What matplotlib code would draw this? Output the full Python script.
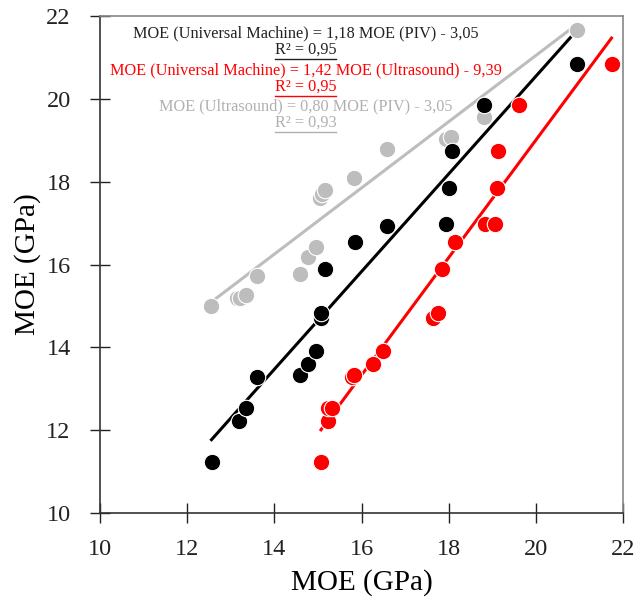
import matplotlib
matplotlib.use("Agg")
import matplotlib.pyplot as plt
import numpy as np

plt.rcParams['font.family'] = ['Liberation Serif', 'DejaVu Serif']

# Universal Machine vs PIV (black)
piv_um_x = [12.56, 13.18, 13.34, 13.61, 14.59, 14.78, 14.96, 15.07, 15.08, 15.17,
            15.85, 16.58, 17.93, 18.00, 18.07, 18.80, 20.93]
piv_um_y = [11.23, 12.22, 12.54, 13.28, 13.33, 13.60, 13.92, 14.70, 14.83, 15.90,
            16.55, 16.93, 16.98, 17.85, 18.74, 19.84, 20.85]
# Universal Machine vs Ultrasound (red)
us_um_x = [15.07, 15.23, 15.22, 15.32, 15.77, 15.82, 16.26, 16.50, 17.63, 17.75,
           17.84, 18.14, 18.83, 19.05, 19.10, 19.12, 19.62, 21.73]
us_um_y = [11.23, 12.22, 12.54, 12.54, 13.28, 13.33, 13.60, 13.92, 14.70, 14.83,
           15.90, 16.55, 16.98, 16.98, 17.85, 18.74, 19.84, 20.85]
# Ultrasound vs PIV (gray)
piv_us_x = [12.54, 13.15, 13.22, 13.34, 13.61, 14.59, 14.78, 14.96, 15.05, 15.10,
            15.17, 15.83, 16.58, 17.94, 18.04, 18.80, 20.93]
piv_us_y = [15.00, 15.19, 15.20, 15.27, 15.72, 15.77, 16.18, 16.43, 17.60, 17.70,
            17.80, 18.09, 18.79, 19.02, 19.08, 19.57, 21.67]

# trend line coefficients (slope, intercept)
fit_black = (1.18, -3.05)
fit_red = (1.42, -9.39)
fit_gray = (0.80, 5.05)

labels = [
    ("MOE (Universal Machine) = 1,18 MOE (PIV) - 3,05", "R² = 0,95", "#222222"),
    ("MOE (Universal Machine) = 1,42 MOE (Ultrasound) - 9,39", "R² = 0,95", "#ff0000"),
    ("MOE (Ultrasound) = 0,80 MOE (PIV) - 3,05", "R² = 0,93", "#b0b0b0"),
]

fig = plt.figure(figsize=(6.36, 5.97), dpi=100)
ax = fig.add_axes([0.157, 0.1407, 0.823, 0.8325])

series = [
    (piv_us_x, piv_us_y, fit_gray, "#bdbdbd"),
    (piv_um_x, piv_um_y, fit_black, "#000000"),
    (us_um_x, us_um_y, fit_red, "#ff0000"),
]
for xs, ys, (m, b), col in series:
    xs = np.array(xs)
    xl = np.array([xs.min(), xs.max()])
    ax.plot(xl, m * xl + b, color=col, lw=2.2, zorder=2)
for xs, ys, (m, b), col in series:
    ax.scatter(xs, ys, s=140, color=col, edgecolors='white', linewidths=0.8, zorder=3)

ax.set_xlim(10, 22)
ax.set_ylim(10, 22)
ax.set_xticks(range(10, 23, 2))
ax.set_yticks(range(10, 23, 2))
ax.tick_params(direction='inout', length=15, width=1, labelsize=17.5, colors='#222222')
ax.tick_params(axis='x', pad=11.5)
ax.tick_params(axis='y', pad=13.5)
for s in ['left', 'bottom']:
    ax.spines[s].set_color('#333333')
    ax.spines[s].set_linewidth(1.2)
for s in ['top', 'right']:
    ax.spines[s].set_color('#888888')
    ax.spines[s].set_linewidth(1.2)
ax.set_xlabel("MOE (GPa)", fontsize=21, labelpad=6)
ax.set_ylabel("MOE (GPa)", fontsize=21, labelpad=4)

ys_px = [33, 70, 106]
for (eq, r2, col), yp in zip(labels, ys_px):
    yf = 1 - yp / 597
    fig.text(305.5 / 636, yf, eq, color=col, fontsize=11.7, ha='center', va='center')
    t = fig.text(305.5 / 636, yf - 17 / 597, r2, color=col, fontsize=11.7, ha='center', va='center')
    fig.canvas.draw()
    bb = t.get_window_extent()
    fig.add_artist(plt.Line2D([bb.x0 / 636, bb.x1 / 636],
                              [(bb.y0 - 1) / 597, (bb.y0 - 1) / 597],
                              color=col, lw=1.0, transform=fig.transFigure))

fig.savefig("out.png", dpi=100)
